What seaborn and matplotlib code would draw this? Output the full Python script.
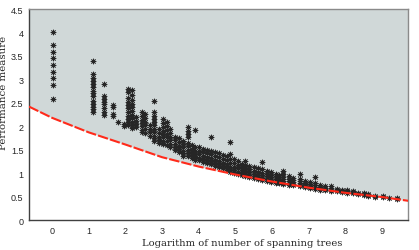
import pandas as pd
import matplotlib
matplotlib.use('Agg')
import matplotlib.pyplot as plt
import seaborn as sns

# Curva limite inferior
bound_x = [-0.63, 0, 1, 2, 3, 4, 5, 6, 7, 8, 9, 9.71]
bound_y = [2.42, 2.18, 1.87, 1.61, 1.34, 1.14, 0.97, 0.82, 0.69, 0.58, 0.49, 0.41]

# Pontos de desempenho, agrupados por coluna (x aproximado)
col_x = [0.04, 1.13, 1.43, 1.65, 1.81, 1.95, 2.07, 2.17, 2.28, 2.45, 2.54, 2.66,
         2.79, 2.92, 3.03, 3.13, 3.22, 3.35, 3.47, 3.57, 3.72, 3.82, 3.9, 4.02,
         4.12, 4.22, 4.34, 4.45, 4.56, 4.67, 4.76, 4.85, 4.97, 5.08, 5.18, 5.26,
         5.38, 5.5, 5.62, 5.72, 5.85, 5.97, 6.1, 6.2, 6.31, 6.45, 6.58, 6.76,
         6.9, 7.04, 7.17, 7.3, 7.45, 7.62, 7.78, 7.92, 8.04, 8.2, 8.35, 8.5,
         8.62, 8.8, 9.03, 9.2, 9.4]
col_y = [
    [4.01, 3.73, 3.59, 3.45, 3.30, 3.16, 3.02, 2.88, 2.58],
    [3.40, 3.11, 3.02, 2.97, 2.90, 2.83, 2.76, 2.71, 2.64, 2.54, 2.47, 2.42, 2.36, 2.30],
    [2.91, 2.65, 2.58, 2.52, 2.47, 2.38, 2.31, 2.24],
    [2.45, 2.40, 2.26, 2.21],
    [2.10],
    [2.05, 2.00],
    [2.79, 2.72, 2.60, 2.52, 2.45, 2.38, 2.30, 2.22, 2.15, 2.08, 2.02],
    [2.78, 2.66, 2.55, 2.48, 2.40, 2.33, 2.25, 2.18, 2.10, 2.03, 1.96],
    [2.20, 2.12, 2.05, 1.98],
    [2.30, 2.22, 2.14, 2.07, 2.00, 1.93, 1.88],
    [2.26, 2.18, 2.10, 2.02, 1.95, 1.86],
    [2.02, 1.95, 1.88, 1.80],
    [2.54, 2.30, 2.22, 2.15, 2.09, 2.02, 1.95, 1.88, 1.80, 1.74, 1.68],
    [1.95, 1.86, 1.78, 1.70, 1.64],
    [2.15, 2.06, 1.98, 1.90, 1.83, 1.76, 1.69, 1.62],
    [2.10, 2.00, 1.92, 1.84, 1.76, 1.68, 1.60],
    [1.95, 1.85, 1.78, 1.70, 1.62, 1.55],
    [1.78, 1.70, 1.62, 1.55, 1.50],
    [1.74, 1.66, 1.58, 1.52, 1.46],
    [1.69, 1.62, 1.55, 1.48, 1.42, 1.37],
    [1.98, 1.90, 1.83, 1.76, 1.65, 1.58, 1.50, 1.43, 1.36],
    [1.60, 1.52, 1.45, 1.38, 1.33],
    [1.92, 1.56, 1.48, 1.41, 1.34, 1.29],
    [1.55, 1.47, 1.40, 1.33, 1.27],
    [1.52, 1.44, 1.37, 1.30, 1.24],
    [1.50, 1.42, 1.35, 1.28, 1.22],
    [1.76, 1.48, 1.40, 1.32, 1.25, 1.19],
    [1.45, 1.37, 1.29, 1.22, 1.16],
    [1.42, 1.34, 1.26, 1.19, 1.13],
    [1.38, 1.30, 1.22, 1.15, 1.10],
    [1.36, 1.27, 1.19, 1.12, 1.06],
    [1.67, 1.41, 1.31, 1.22, 1.14, 1.07, 1.02],
    [1.30, 1.21, 1.13, 1.06, 1.00],
    [1.25, 1.17, 1.10, 1.03, 0.98],
    [1.20, 1.13, 1.07, 1.01, 0.96],
    [1.26, 1.18, 1.11, 1.04, 0.98, 0.94],
    [1.15, 1.08, 1.02, 0.96, 0.92],
    [1.12, 1.05, 0.99, 0.94, 0.90],
    [1.10, 1.03, 0.97, 0.92, 0.88],
    [1.23, 1.08, 1.00, 0.95, 0.90, 0.86],
    [1.05, 0.98, 0.93, 0.88, 0.84],
    [1.02, 0.96, 0.91, 0.86, 0.82],
    [0.99, 0.93, 0.88, 0.84, 0.80],
    [0.96, 0.91, 0.86, 0.82, 0.78],
    [1.05, 0.98, 0.92, 0.87, 0.83, 0.79, 0.77],
    [0.93, 0.88, 0.83, 0.79, 0.75],
    [0.90, 0.85, 0.81, 0.77, 0.74],
    [0.98, 0.88, 0.83, 0.79, 0.75, 0.72],
    [0.84, 0.80, 0.76, 0.72, 0.70],
    [0.81, 0.77, 0.73, 0.70, 0.68],
    [0.91, 0.78, 0.74, 0.70, 0.67],
    [0.75, 0.71, 0.68, 0.65],
    [0.73, 0.69, 0.66, 0.63],
    [0.72, 0.68, 0.65, 0.62],
    [0.67, 0.64, 0.61],
    [0.65, 0.62, 0.59],
    [0.64, 0.61, 0.58],
    [0.62, 0.59, 0.57],
    [0.58, 0.56],
    [0.57, 0.55, 0.53],
    [0.56, 0.53, 0.52],
    [0.52, 0.50],
    [0.51, 0.49],
    [0.48],
    [0.46, 0.45],
]

x_ticks = [0, 1, 2, 3, 4, 5, 6, 7, 8, 9]
y_ticks = [0, 0.5, 1, 1.5, 2, 2.5, 3, 3.5, 4, 4.5]

rows = [(x, y) for x, ys in zip(col_x, col_y) for y in ys]
df = pd.DataFrame(rows, columns=['logtrees', 'perf'])
bound = pd.DataFrame({'x': bound_x, 'y': bound_y})

sns.set_style('white')
fig = plt.figure(figsize=(4.19, 2.51), dpi=100)
ax = fig.add_axes([0.069, 0.1195, 0.905, 0.8405])

# regiao viavel sombreada
ax.fill_between(bound['x'], bound['y'], 4.5, color='#d0d8d8', lw=0, zorder=0)

sns.scatterplot(data=df, x='logtrees', y='perf', marker=(8, 2, 0), s=13,
                color='#262626', edgecolor='#262626', linewidth=0.55, ax=ax, zorder=3)
sns.lineplot(data=bound, x='x', y='y', color='#ff2a1a', lw=1.5,
             linestyle=(0, (5, 1)), ax=ax, zorder=4)

ax.set_xlim(-0.63, 9.71)
ax.set_ylim(0, 4.5)
ax.set_xticks(x_ticks)
ax.set_yticks(y_ticks)
ax.set_yticklabels(['0', '0.5', '1', '1.5', '2', '2.5', '3', '3.5', '4', '4.5'])
ax.tick_params(length=0, labelsize=6.5, pad=4)
for lab in ax.get_xticklabels() + ax.get_yticklabels():
    lab.set_family('Liberation Sans')

ax.set_xlabel('Logarithm of number of spanning trees', family='DejaVu Serif',
              fontsize=7.2)
ax.set_ylabel('Performance measure', family='DejaVu Serif', fontsize=7.4)
ax.xaxis.set_label_coords(0.562, -0.085)
ax.yaxis.set_label_coords(-0.055, 0.607)

for side in ['left', 'bottom']:
    ax.spines[side].set_color('#404040')
    ax.spines[side].set_linewidth(1.0)
for side in ['top', 'right']:
    ax.spines[side].set_color('#8a8a8a')
    ax.spines[side].set_linewidth(1.0)

plt.savefig('out.png', dpi=100)
